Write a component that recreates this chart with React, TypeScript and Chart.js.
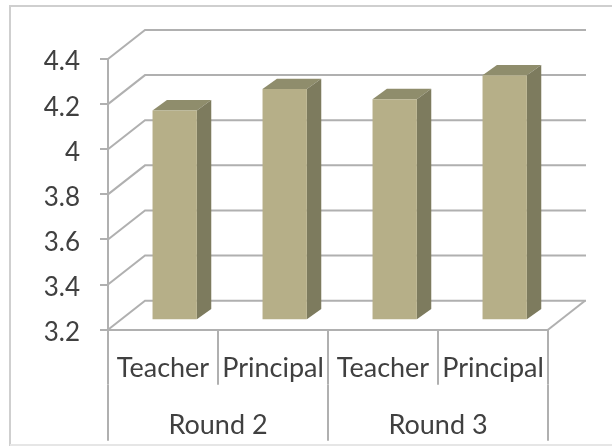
import React, { useEffect, useRef } from "react";
import { Chart, registerables } from "chart.js";

Chart.register(...registerables);

const roles = ["Teacher", "Principal", "Teacher", "Principal"];
const rounds = ["Round 2", "Round 3"];
const scores = [4.13, 4.225, 4.18, 4.286];
const yTickLabels = ["3.2", "3.4", "3.6", "3.8", "4", "4.2", "4.4"];

const GRID = "#b0b0b0";
const TEXT = "#404040";
const FONT = "Lato";
const WALL_DX = 37;
const WALL_DY = -29;
const BAR_DX = 11.7;
const BAR_DY = -9.4;
const SIDE_DX = 14.4;
const SIDE_DY = -10.4;

const frame = {
  id: "frame",
  beforeDraw(chart: any) {
    const { ctx } = chart;
    ctx.save();
    ctx.fillStyle = "#ffffff";
    ctx.fillRect(0, 0, chart.width, chart.height);
    ctx.strokeStyle = "#cfcfcf";
    ctx.lineWidth = 2;
    ctx.beginPath();
    ctx.moveTo(10, 446);
    ctx.lineTo(10, 6);
    ctx.lineTo(612, 6);
    ctx.stroke();
    ctx.strokeStyle = "#e6e6e6";
    ctx.beginPath();
    ctx.moveTo(10, 445);
    ctx.lineTo(612, 445);
    ctx.stroke();
    ctx.restore();
  },
};

const walls = {
  id: "walls",
  beforeDatasetsDraw(chart: any) {
    const { ctx, chartArea, scales } = chart;
    ctx.save();
    ctx.strokeStyle = GRID;
    ctx.lineWidth = 2;
    for (const t of scales.y.ticks) {
      const p = scales.y.getPixelForValue(t.value);
      ctx.beginPath();
      ctx.moveTo(chartArea.left, p);
      ctx.lineTo(chartArea.left + WALL_DX, p + WALL_DY);
      ctx.lineTo(chartArea.right + WALL_DX + 1, p + WALL_DY);
      ctx.stroke();
    }
    ctx.beginPath();
    ctx.moveTo(chartArea.right, chartArea.bottom);
    ctx.lineTo(chartArea.right + WALL_DX, chartArea.bottom + WALL_DY);
    ctx.stroke();
    ctx.restore();
  },
};

const extrude = {
  id: "extrude",
  beforeDatasetDraw(chart: any, args: any) {
    const { ctx } = chart;
    ctx.save();
    ctx.translate(BAR_DX, BAR_DY);
    for (const el of args.meta.data) {
      const l = el.x - el.width / 2;
      const r = el.x + el.width / 2;
      ctx.fillStyle = "#8f8d6c";
      ctx.beginPath();
      ctx.moveTo(l, el.y);
      ctx.lineTo(l + SIDE_DX, el.y + SIDE_DY);
      ctx.lineTo(r + SIDE_DX, el.y + SIDE_DY);
      ctx.lineTo(r, el.y);
      ctx.closePath();
      ctx.fill();
      ctx.fillStyle = "#7d7b5e";
      ctx.beginPath();
      ctx.moveTo(r, el.y);
      ctx.lineTo(r + SIDE_DX, el.y + SIDE_DY);
      ctx.lineTo(r + SIDE_DX, el.base + SIDE_DY);
      ctx.lineTo(r, el.base);
      ctx.closePath();
      ctx.fill();
    }
  },
  afterDatasetDraw(chart: any) {
    chart.ctx.restore();
  },
};

export default function App() {
  const ref = useRef<HTMLCanvasElement>(null);

  useEffect(() => {
    const chart = new Chart(ref.current!, {
      type: "bar",
      data: {
        labels: roles,
        datasets: [
          {
            data: scores,
            base: Number(yTickLabels[0]),
            backgroundColor: "#b6af88",
            barPercentage: 0.403,
            categoryPercentage: 1,
            clip: false,
          } as any,
        ],
      },
      options: {
        responsive: false,
        animation: false,
        layout: {
          autoPadding: false,
          padding: { left: 0, right: 64, top: 59, bottom: 5.3 },
        },
        plugins: { legend: { display: false }, tooltip: { enabled: false } },
        scales: {
          y: {
            min: 3.2,
            max: 4.4,
            afterFit: (s: any) => {
              s.width = 108;
            },
            afterBuildTicks: (s: any) => {
              s.ticks = yTickLabels.map((l) => ({ value: Number(l) }));
            },
            grid: {
              drawOnChartArea: false,
              color: GRID,
              lineWidth: 2,
              tickLength: 8,
            },
            border: { display: true, color: GRID, width: 2 },
            ticks: {
              callback: (v: any) => String(v),
              color: TEXT,
              font: { family: FONT, size: 26 },
              padding: 20,
              labelOffset: 3,
              autoSkip: false,
            } as any,
          },
          x: {
            offset: true,
            afterFit: (s: any) => {
              s.height = 55;
            },
            grid: {
              offset: true,
              drawOnChartArea: false,
              color: GRID,
              lineWidth: 2,
              tickLength: 55,
            },
            border: { display: true, color: GRID, width: 2 },
            ticks: {
              color: TEXT,
              font: { family: FONT, size: 27 },
              padding: -33,
              maxRotation: 0,
              autoSkip: false,
            },
          },
          x2: {
            type: "category",
            position: "bottom",
            labels: rounds,
            offset: true,
            afterFit: (s: any) => {
              s.height = 56;
            },
            grid: {
              offset: true,
              drawOnChartArea: false,
              color: GRID,
              lineWidth: 2,
              tickLength: 56,
            },
            border: { display: false },
            ticks: {
              color: TEXT,
              font: { family: FONT, size: 27 },
              padding: -32,
              maxRotation: 0,
              autoSkip: false,
            },
          },
        },
      } as any,
      plugins: [frame, walls, extrude],
    });
    return () => chart.destroy();
  }, []);

  return (
    <canvas
      ref={ref}
      width={612}
      height={446}
      style={{ position: "absolute", left: 0, top: 0, width: 612, height: 446, filter: "blur(0.5px)" }}
    />
  );
}
